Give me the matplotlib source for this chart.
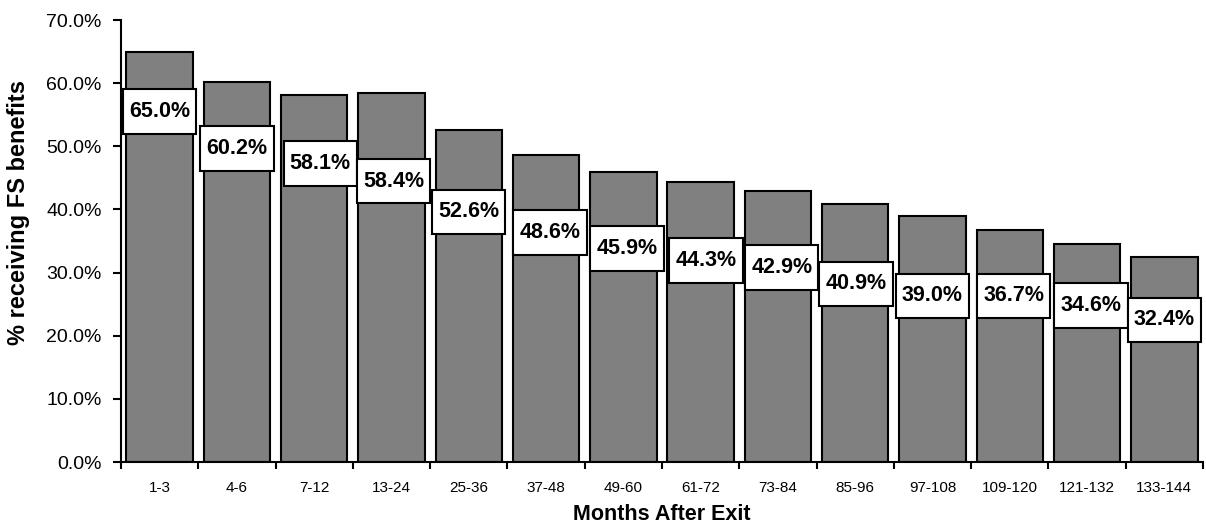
import matplotlib
matplotlib.use("Agg")
import matplotlib.pyplot as plt
from matplotlib.patches import Rectangle
from matplotlib.ticker import FuncFormatter, FixedLocator

categories = ['1-3', '4-6', '7-12', '13-24', '25-36', '37-48', '49-60', '61-72',
              '73-84', '85-96', '97-108', '109-120', '121-132', '133-144']
pct_receiving = [65.0, 60.2, 58.1, 58.4, 52.6, 48.6, 45.9, 44.3,
                 42.9, 40.9, 39.0, 36.7, 34.6, 32.4]

# where the label boxes sit (hand-placed in the original chart)
label_y = [55.5, 49.7, 47.3, 44.5, 39.6, 36.3, 33.8, 31.9,
           30.8, 28.2, 26.3, 26.3, 24.8, 22.5]
label_dx = [0, 0, 0.08, 0.03, 0, 0.05, 0.05, 0.07,
            0.05, 0.01, 0, 0.05, 0.05, 0]

plt.rcParams['font.family'] = ['Liberation Sans', 'DejaVu Sans']

fig = plt.figure(figsize=(12.06, 5.27), dpi=100)
ax = fig.add_axes([0.1003, 0.1233, 0.8972, 0.8387])

x = list(range(len(categories)))
ax.bar(x, pct_receiving, width=0.86, color='#808080', edgecolor='black',
       linewidth=1.5, zorder=2)

# data labels in white boxes
for i, v in enumerate(pct_receiving):
    xc = i + label_dx[i]
    yc = label_y[i]
    ax.add_patch(Rectangle((xc - 0.475, yc - 3.55), 0.95, 7.1, facecolor='white',
                           edgecolor='black', linewidth=1.5, zorder=3))
    ax.text(xc, yc, f'{v:.1f}%', ha='center', va='center', fontsize=15.5,
            fontweight='bold', zorder=4)

ax.set_xlim(-0.5, len(categories) - 0.5)
ax.set_ylim(0, 70)
ax.set_yticks(range(0, 71, 10))
ax.yaxis.set_major_formatter(FuncFormatter(lambda val, pos: f'{val:.1f}%'))
ax.tick_params(axis='y', labelsize=14, length=6, width=1.5, direction='out', pad=8)

ax.set_xticks(x)
ax.set_xticklabels(categories, fontsize=11)
ax.tick_params(axis='x', which='major', length=0, pad=14)
ax.xaxis.set_minor_locator(FixedLocator([i - 0.5 for i in range(len(categories) + 1)]))
ax.tick_params(axis='x', which='minor', length=5, width=1.5, direction='out')

for side in ['top', 'right']:
    ax.spines[side].set_visible(False)
for side in ['left', 'bottom']:
    ax.spines[side].set_linewidth(1.5)

ax.set_xlabel('Months After Exit', fontsize=15.5, fontweight='bold', labelpad=6)
fig.text(18.5 / 1206, 1 - 212 / 527, '% receiving FS benefits', rotation=90,
         ha='center', va='center', fontsize=17, fontweight='bold')

fig.savefig('out.png', dpi=100)
